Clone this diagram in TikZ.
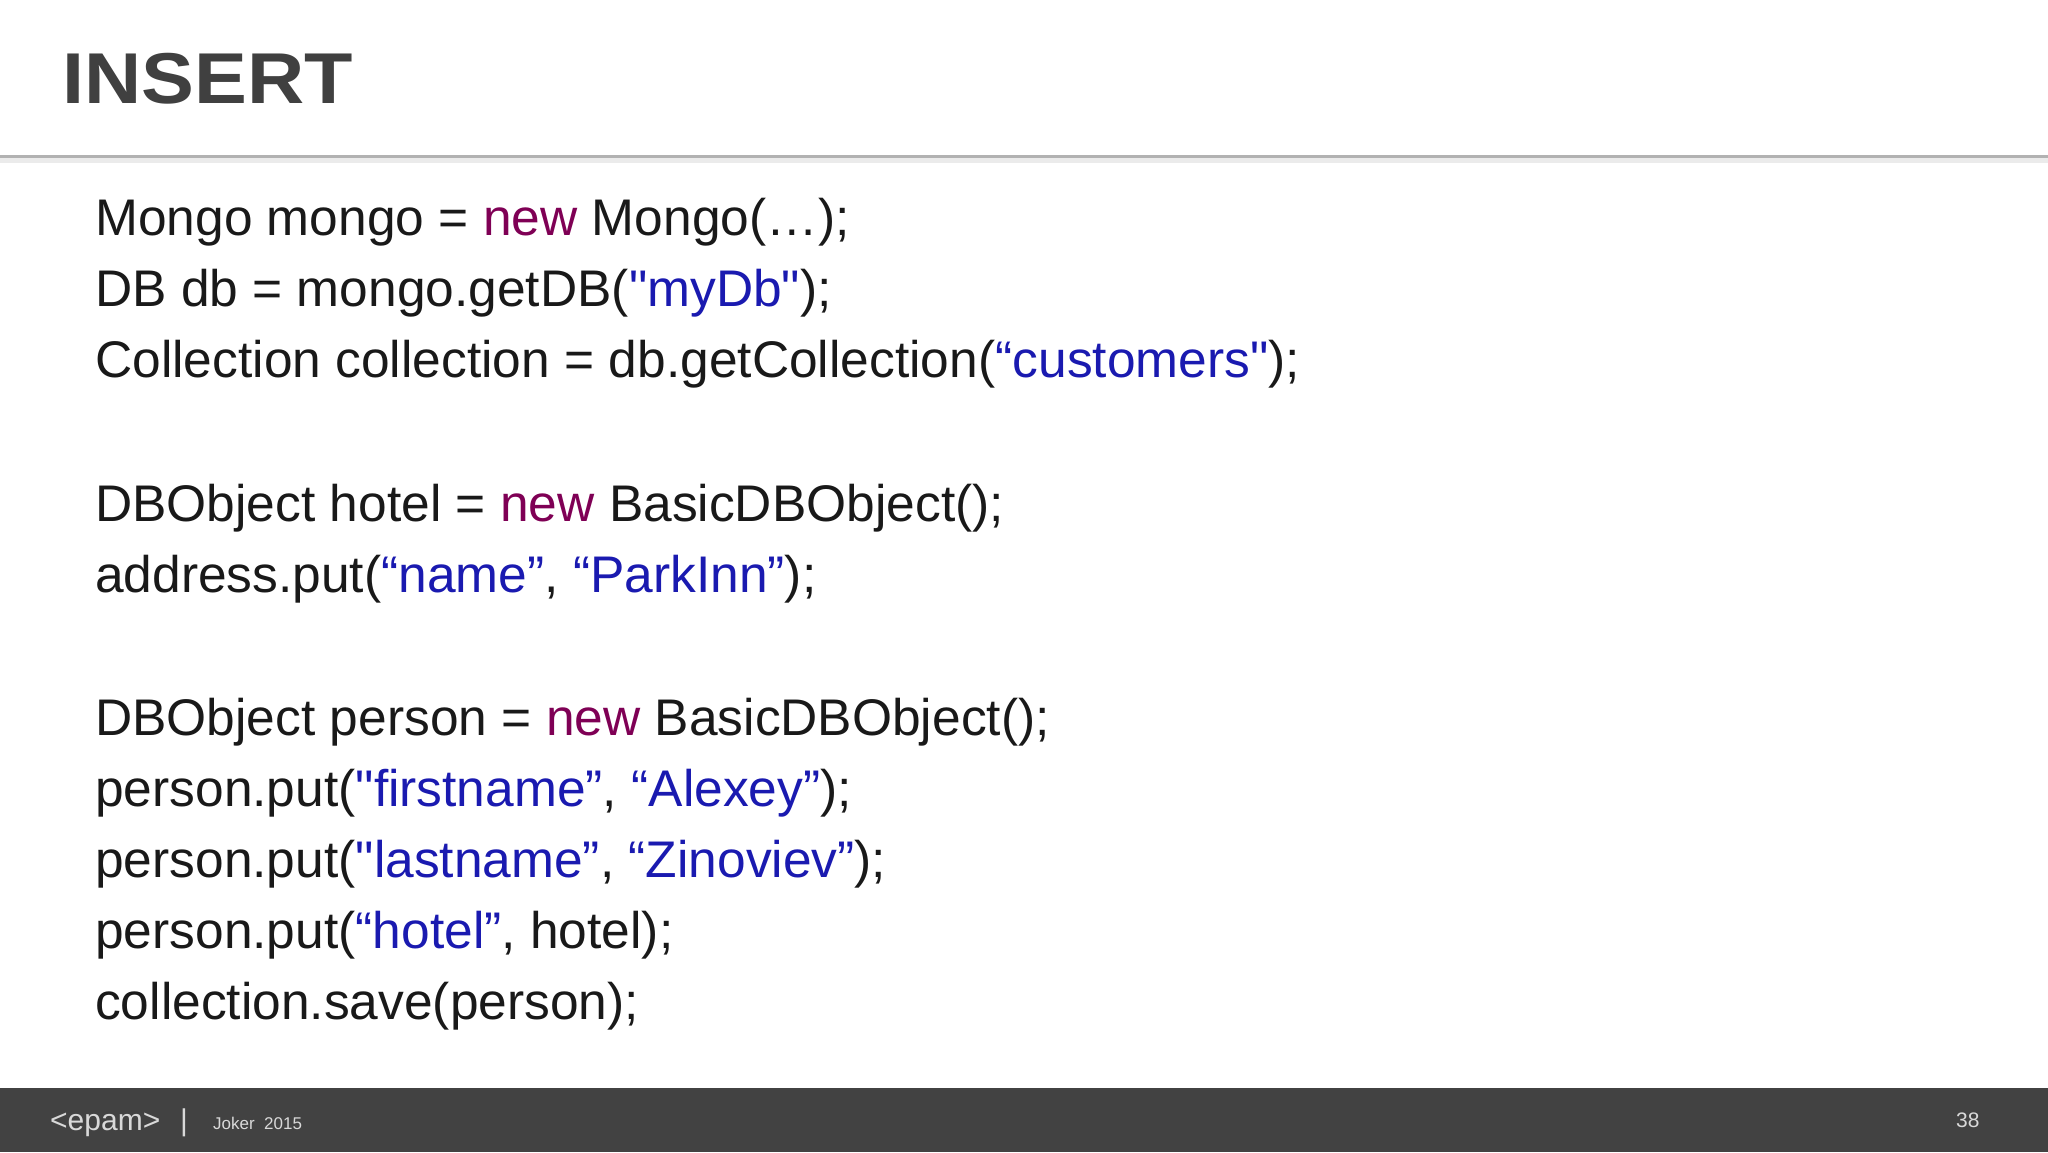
\documentclass[tikz,border=0pt]{standalone}
\usepackage{fontspec}
\setmainfont{Liberation Sans}[Ligatures=TeXOff]
\begin{document}
\begin{tikzpicture}[x=1pt,y=-1pt,
  code/.style={anchor=base west,inner sep=0pt,font=\fontsize{51.5}{60}\selectfont,text=black!90},
  foot/.style={anchor=base west,inner sep=0pt,text=white!85!black}]
\definecolor{kw}{HTML}{7F0055}
\definecolor{st}{HTML}{1A1AB0}
\newcommand\kw[1]{\textcolor{kw}{#1}}
\newcommand\st[1]{\textcolor{st}{#1}}
\useasboundingbox (0,0) rectangle (2048,1152);
\fill[white] (0,0) rectangle (2048,1152);
\fill[black!8] (0,156) rectangle (2048,163);
\fill[black!30] (0,155) rectangle (2048,158);
\node[anchor=base west,inner sep=0pt,font=\fontsize{72}{72}\selectfont\bfseries,text=black!75] (title) at (62,103) {\scalebox{1.1}[1]{INSERT}};
\node[code] (l1) at (95,235) {Mongo mongo = \kw{new} Mongo(…);};
\node[code] (l2) at (95,306) {DB db = mongo.getDB(\st{"myDb"});};
\node[code] (l3) at (95,377) {Collection collection = db.getCollection(\st{“customers"});};
\node[code] (l4) at (95,521) {DBObject hotel = \kw{new} BasicDBObject();};
\node[code] (l5) at (95,592) {address.put(\st{“name”}, \st{“ParkInn”});};
\node[code] (l6) at (95,735) {DBObject person = \kw{new} BasicDBObject();};
\node[code] (l7) at (95,806) {person.put(\st{"firstname”}, \st{“Alexey”});};
\node[code] (l8) at (95,877) {person.put(\st{"lastname”}, \st{“Zinoviev”});};
\node[code] (l9) at (95,948) {person.put(\st{“hotel”}, hotel);};
\node[code] (l10) at (95,1019) {collection.save(person);};
\fill[black!74] (0,1088) rectangle (2048,1152);
\node[foot,font=\fontsize{30}{30}\selectfont] (logo) at (50,1130) {<epam>};
\node[foot,font=\fontsize{30}{30}\selectfont] (bar) at (180,1130) {|};
\node[foot,font=\fontsize{17}{17}\selectfont] (joker) at (213,1129) {Joker\ \ 2015};
\node[foot,font=\fontsize{21}{21}\selectfont] (num) at (1956,1127) {38};
\end{tikzpicture}
\end{document}
